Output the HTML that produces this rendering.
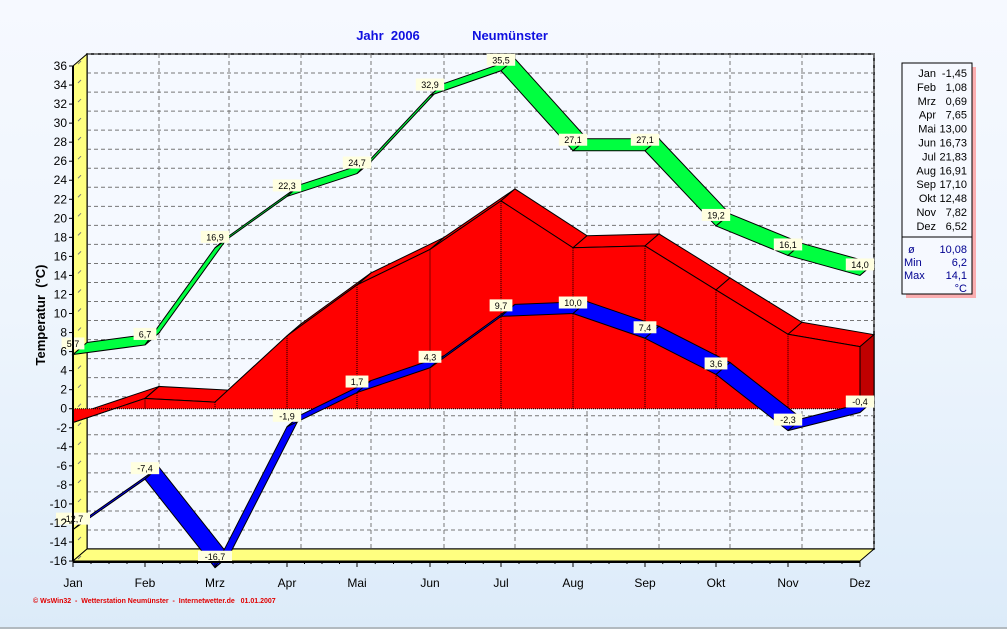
<!DOCTYPE html>
<html><head><meta charset="utf-8">
<style>
html,body{margin:0;padding:0;width:1007px;height:629px;overflow:hidden;}
body{background:linear-gradient(#f6f9ff 0%,#eef5fd 50%,#dcebf9 100%);font-family:"Liberation Sans",sans-serif;}
svg{position:absolute;left:0;top:0;}
</style></head><body>
<svg id="s" width="1007" height="629" xmlns="http://www.w3.org/2000/svg" font-family="Liberation Sans, sans-serif"></svg>
<script>
(function(){
const S=document.getElementById('s');
let h='';
const DX=14,DY=-12;
const X=[73,145,215,287,357,430,501,573,645,716,788,860];
const Y=v=>66+(36-v)*9.52;
const mon=['Jan','Feb','Mrz','Apr','Mai','Jun','Jul','Aug','Sep','Okt','Nov','Dez'];
const mean=[-1.45,1.08,0.69,7.65,13.00,16.73,21.83,16.91,17.10,12.48,7.82,6.52];
const mx=[5.7,6.7,16.9,22.3,24.7,32.9,35.5,27.1,27.1,19.2,16.1,14.0];
const mn=[-12.7,-7.4,-16.7,-1.9,1.7,4.3,9.7,10.0,7.4,3.6,-2.3,-0.4];
h+=`<rect x="${73+DX}" y="${Y(36)+DY}" width="${860-73}" height="${Y(-16)-Y(36)}" fill="#f5f9ff" stroke="#000" stroke-width="1.5"/>`;
for(let v=-16;v<=36;v+=2){const y=Y(v)+DY;h+=`<line x1="87" y1="${y}" x2="874" y2="${y}" stroke="#777" stroke-dasharray="4,3" stroke-width="1"/>`;}
for(let i=1;i<12;i++){h+=`<line x1="${X[i]+DX}" y1="${Y(36)+DY}" x2="${X[i]+DX}" y2="${Y(-16)+DY}" stroke="#777" stroke-dasharray="4,3"/>`;}
h+=`<polygon points="73,${Y(36)} 87,${Y(36)+DY} 87,${Y(-16)+DY} 73,${Y(-16)}" fill="#ffff80" stroke="#000"/>`;
h+=`<polygon points="73,${Y(-16)} 87,${Y(-16)+DY} 874,${Y(-16)+DY} 860,${Y(-16)}" fill="#ffff80" stroke="#000"/>`;
for(let v=-16;v<=36;v+=2){h+=`<line x1="78" y1="${Y(v)-2}" x2="81" y2="${Y(v)-5}" stroke="#777"/>`;}
const Z=Y(0);
for(let i=0;i<11;i++){
 h+=`<polygon points="${X[i]},${Y(mean[i])} ${X[i+1]},${Y(mean[i+1])} ${X[i+1]+DX},${Y(mean[i+1])+DY} ${X[i]+DX},${Y(mean[i])+DY}" fill="#ff0000" stroke="#000" stroke-width="1"/>`;
}
let fp=`${X[0]},${Z} `;for(let i=0;i<12;i++)fp+=`${X[i]},${Y(mean[i])} `;fp+=`${X[11]},${Z}`;
h+=`<polygon points="${fp}" fill="#ff0000"/>`;
let fl='';for(let i=0;i<12;i++)fl+=`${X[i]},${Y(mean[i])} `;
h+=`<polyline points="${fl}" fill="none" stroke="#000"/>`;
for(let i=1;i<11;i++)h+=`<line x1="${X[i]}" y1="${Y(mean[i])}" x2="${X[i]}" y2="${Z}" stroke="#000" stroke-dasharray="1,1"/>`;
h+=`<polygon points="${X[11]},${Y(mean[11])} ${X[11]+DX},${Y(mean[11])+DY} ${X[11]+DX},${Z+DY} ${X[11]},${Z}" fill="#c00000" stroke="#000"/>`;
h+=`<line x1="73" y1="${Z}" x2="860" y2="${Z}" stroke="#000" stroke-dasharray="1,1"/>`;
function rib(a,col){for(let i=0;i<11;i++){
 h+=`<polygon points="${X[i]},${Y(a[i])} ${X[i+1]},${Y(a[i+1])} ${X[i+1]+DX},${Y(a[i+1])+DY} ${X[i]+DX},${Y(a[i])+DY}" fill="${col}" stroke="#000" stroke-width="1"/>`;}}
rib(mx,'#00ff40');rib(mn,'#0000ff');
function lab(a){for(let i=0;i<12;i++){const t=a[i].toFixed(1).replace('.',',');const w=t.length*5.6+6;const x=X[i],y=Y(a[i])-11;
 h+=`<rect x="${x-w/2}" y="${y-6}" width="${w}" height="12" fill="#ffffe0"/><text x="${x}" y="${y+3.5}" font-size="9" text-anchor="middle">${t}</text>`;}}
lab(mx);lab(mn);
h+=`<line x1="73" y1="${Y(36)}" x2="73" y2="${Y(-16)}" stroke="#000" stroke-width="2"/>`;
h+=`<line x1="73" y1="${Y(-16)+1}" x2="860" y2="${Y(-16)+1}" stroke="#000" stroke-width="2"/>`;
for(let v=-16;v<=36;v+=2){const y=Y(v);h+=`<line x1="69" y1="${y}" x2="73" y2="${y}" stroke="#000"/><text x="67" y="${y+4}" font-size="12" text-anchor="end">${v}</text>`;}
for(let i=0;i<12;i++){h+=`<line x1="${X[i]}" y1="${Y(-16)}" x2="${X[i]}" y2="${Y(-16)+6}" stroke="#000"/><text x="${X[i]}" y="587" font-size="12" text-anchor="middle">${mon[i]}</text>`;
 for(let k=1;k<4&&i<11;k++){const xx=X[i]+(X[i+1]-X[i])*k/4;h+=`<line x1="${xx}" y1="${Y(-16)}" x2="${xx}" y2="${Y(-16)+3}" stroke="#000"/>`;}}
h+=`<text x="388" y="40" font-size="13" font-weight="bold" fill="#1010e0" text-anchor="middle" xml:space="preserve">Jahr  2006</text>`;
h+=`<text x="510" y="40" font-size="13" font-weight="bold" fill="#1010e0" text-anchor="middle">Neumünster</text>`;
h+=`<text transform="translate(45,315) rotate(-90)" font-size="13" font-weight="bold" text-anchor="middle" xml:space="preserve">Temperatur  (°C)</text>`;
h+=`<text x="33" y="603" font-size="7" fill="#e00000" font-weight="bold" xml:space="preserve">© WsWin32  -  Wetterstation Neumünster  -  Internetwetter.de   01.01.2007</text>`;
h+=`<rect x="906" y="67" width="70" height="231" fill="#ff9090" opacity="0.7"/>`;
h+=`<rect x="902" y="63" width="70" height="231" fill="#f6f9ff" stroke="#000"/>`;
h+=`<line x1="902" y1="237" x2="972" y2="237" stroke="#000"/>`;
const lv=['-1,45','1,08','0,69','7,65','13,00','16,73','21,83','16,91','17,10','12,48','7,82','6,52'];
for(let i=0;i<12;i++){const y=77+i*13.9;h+=`<text x="936" y="${y}" font-size="11" text-anchor="end">${mon[i]}</text><text x="967" y="${y}" font-size="11" text-anchor="end">${lv[i]}</text>`;}
h+=`<text x="908" y="253" font-size="11" fill="#000090">ø</text><text x="967" y="253" font-size="11" fill="#000090" text-anchor="end">10,08</text>`;
h+=`<text x="904" y="266" font-size="11" fill="#000090">Min</text><text x="967" y="266" font-size="11" fill="#000090" text-anchor="end">6,2</text>`;
h+=`<text x="904" y="279" font-size="11" fill="#000090">Max</text><text x="967" y="279" font-size="11" fill="#000090" text-anchor="end">14,1</text>`;
h+=`<text x="967" y="292" font-size="11" fill="#000090" text-anchor="end">°C</text>`;
h+=`<line x1="0" y1="628" x2="1007" y2="628" stroke="#888"/>`;
S.innerHTML=h;
})();
</script>
</body></html>
